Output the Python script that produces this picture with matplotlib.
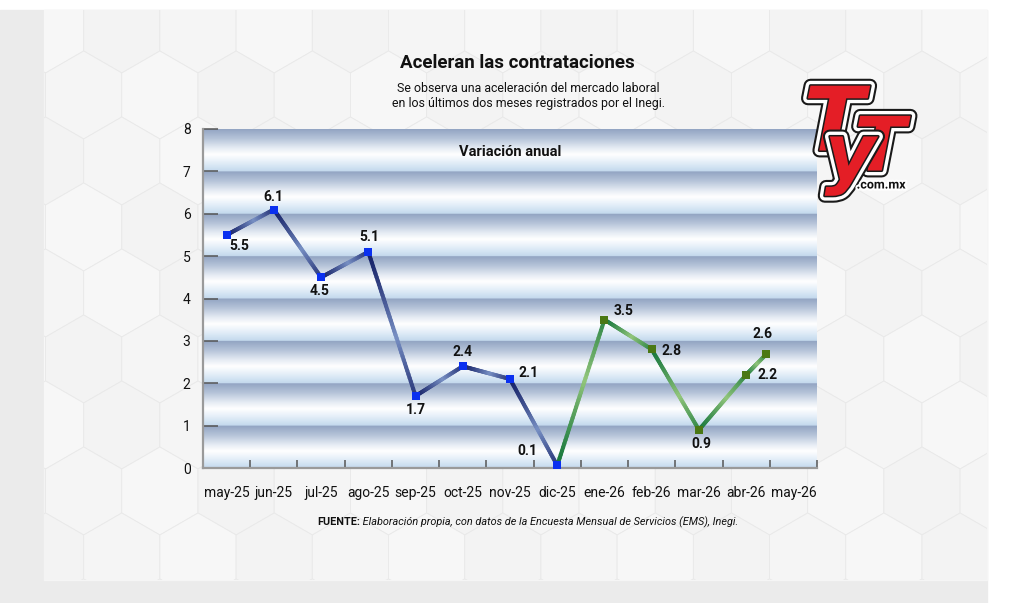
import numpy as np
import matplotlib
matplotlib.use('Agg')
import matplotlib.pyplot as plt
from matplotlib.collections import LineCollection
from matplotlib.colors import LinearSegmentedColormap, to_rgb
from matplotlib.patches import Rectangle, RegularPolygon
import matplotlib.patheffects as pe

# ---------------- data ----------------
months = ['may-25', 'jun-25', 'jul-25', 'ago-25', 'sep-25', 'oct-25', 'nov-25',
          'dic-25', 'ene-26', 'feb-26', 'mar-26', 'abr-26', 'may-26']
point_x = [0, 1, 2, 3, 4, 5, 6, 7, 8, 9, 10, 11, 11.42]
values = [5.5, 6.1, 4.5, 5.1, 1.7, 2.4, 2.1, 0.06, 3.5, 2.8, 0.9, 2.2, 2.68]
value_labels = ['5.5', '6.1', '4.5', '5.1', '1.7', '2.4', '2.1', '0.1',
                '3.5', '2.8', '0.9', '2.2', '2.6']
y_ticks = [0, 1, 2, 3, 4, 5, 6, 7, 8]
n_blue = 8  # first stretch (blue) through dic-25

title = 'Aceleran las contrataciones'
subtitle = ('Se observa una aceleración del mercado laboral\n'
            'en los últimos dos meses registrados por el Inegi.')
inner_title = 'Variación anual'
source_bold = 'FUENTE:'
source_text = ('Elaboración propia, con datos de la Encuesta Mensual de '
               'Servicios (EMS), Inegi.')

# label offsets in pixels (dx right, dy down)
label_off = [(13, 11), (0, -13), (-2, 14), (1, -15), (0, 14), (0, -14), (19, -6),
             (-30, -14), (19, -9), (20, 2), (2, 14), (21, 0), (-3, -20)]

FONT = ['Roboto', 'DejaVu Sans']
plt.rcParams['font.family'] = FONT

W, H = 1024, 603
fig = plt.figure(figsize=(W / 100, H / 100), dpi=100)
fig.patch.set_facecolor('white')

# ---------------- background ----------------
bg = fig.add_axes([0, 0, 1, 1], zorder=0)
bg.set_xlim(0, W)
bg.set_ylim(H, 0)
bg.axis('off')
bg.add_patch(Rectangle((0, 10), 987, 593, color='#ebebeb', zorder=0))
panel = Rectangle((44, 10), 943, 570, color='#f5f5f5', zorder=1)
bg.add_patch(panel)
R = 44
wstep = np.sqrt(3) * R
shades = ['#f5f5f5', '#f3f3f3', '#f7f7f7']
for r in range(-1, 10):
    for c in range(-1, 15):
        cx = 198 - 3 * wstep + c * wstep + (r % 2) * wstep / 2
        cy = 95 - 66 + r * 66
        hx = RegularPolygon((cx, cy), numVertices=6, radius=R, orientation=0,
                            facecolor=shades[(r + 2 * c) % 3], edgecolor='#e9e9e9',
                            lw=0.6, zorder=2)
        bg.add_patch(hx)
        hx.set_clip_path(panel)

# ---------------- main axes ----------------
ax = fig.add_axes([203 / W, (H - 468) / H, 614 / W, 339 / H], zorder=2)
ax.set_xlim(-0.5, 12.5)
ax.set_ylim(0, 8)

stripe_cmap = LinearSegmentedColormap.from_list('stripe', [
    (0.0, '#93a5c3'), (0.22, '#b6c4d9'), (0.45, '#e6ecf4'), (0.6, '#ffffff'),
    (0.75, '#eaf2fa'), (0.9, '#d3e4f3'), (1.0, '#c4d9ed')])
nrow = 60
band = np.linspace(0, 1, nrow)
img = np.tile(band, len(y_ticks) - 1).reshape(-1, 1)
ax.imshow(img, cmap=stripe_cmap, extent=[-0.5, 12.5, 0, 8], aspect='auto',
          origin='upper', interpolation='bilinear', zorder=0)


def grad_line(x0, y0, x1, y1, dark, light, n=40):
    t = np.linspace(0, 1, n + 1)
    xs = x0 + (x1 - x0) * t
    ys = y0 + (y1 - y0) * t
    segs = [[(xs[i], ys[i]), (xs[i + 1], ys[i + 1])] for i in range(n)]
    tm = (t[:-1] + t[1:]) / 2
    f = np.clip(1 - np.abs(tm - 0.6) / 0.6, 0, 1) ** 1.3
    d = np.array(to_rgb(dark))
    l = np.array(to_rgb(light))
    cols = d[None, :] + (l - d)[None, :] * f[:, None]
    lc = LineCollection(segs, colors=cols, linewidths=2.9, capstyle='round', zorder=3)
    ax.add_collection(lc)


for i in range(len(values) - 1):
    if i < n_blue - 1:
        dark, light = '#141f66', '#7890c4'
    else:
        dark, light = '#16773c', '#93c67c'
    grad_line(point_x[i], values[i], point_x[i + 1], values[i + 1], dark, light)

ax.plot(point_x[:n_blue], values[:n_blue], 's', color='#0a30f0', ms=6, zorder=5,
        markeredgewidth=0)
ax.plot(point_x[n_blue:], values[n_blue:], 's', color='#4a7814', ms=6, zorder=5,
        markeredgewidth=0)

for x, y, lbl, (dx, dy) in zip(point_x, values, value_labels, label_off):
    ax.annotate(lbl, (x, y), xytext=(dx * 0.72, -dy * 0.72), textcoords='offset points',
                ha='center', va='center', fontsize=10, fontweight='bold',
                color='#111111', zorder=6)

ax.text(0.5, 0.933, inner_title, transform=ax.transAxes, ha='center', va='center',
        fontsize=10.5, fontweight='bold', color='#111111')

for s in ['top', 'right']:
    ax.spines[s].set_visible(False)
for s in ['left', 'bottom']:
    ax.spines[s].set_color('#9a9a9a')
    ax.spines[s].set_linewidth(1.6)

ax.set_yticks(y_ticks)
ax.set_yticklabels([str(v) for v in y_ticks])
ax.tick_params(axis='y', direction='in', length=11, width=1.1, color='#555555',
               pad=9, labelsize=10, labelcolor='#111111')
ax.set_xticks(range(len(months)))
ax.set_xticklabels(months)
ax.set_xticks(np.arange(-0.5, 12.6, 1), minor=True)
ax.tick_params(axis='x', which='major', length=0, pad=13, labelsize=10,
               labelcolor='#111111')
ax.tick_params(axis='x', which='minor', direction='in', length=6, width=1.1,
               color='#555555')

# ---------------- texts ----------------
fig.text(517 / W, 1 - 63 / H, title, ha='center', va='center', fontsize=13.5,
         fontweight='bold', color='#111111')
fig.text(528 / W, 1 - 96.5 / H, subtitle, ha='center', va='center', fontsize=8.9,
         color='#111111', linespacing=1.2)
t1 = fig.text(317 / W, 1 - 522 / H, source_bold, ha='left', va='center', fontsize=7.8,
              fontweight='bold', color='#111111')
ax.annotate(' ' + source_text, xy=(1, 0.5), xycoords=t1, ha='left', va='center',
            fontsize=7.8, style='italic', color='#111111', annotation_clip=False)

# ---------------- logo ----------------
lg = fig.add_axes([0, 0, 1, 1], zorder=10)
lg.set_xlim(0, W)
lg.set_ylim(H, 0)
lg.axis('off')
lg.patch.set_alpha(0)
effects = [pe.Stroke(linewidth=10, foreground='#1a1a1a'),
           pe.Stroke(linewidth=7, foreground='white'),
           pe.Stroke(linewidth=2.2, foreground='#1a1a1a'), pe.Normal()]
lg.text(834, 126, 'T', fontsize=64, fontweight='heavy', style='italic',
        family='DejaVu Sans', color='#e41e26', ha='center', va='center',
        path_effects=effects)
lg.text(880, 150, 'T', fontsize=54, fontweight='heavy', style='italic',
        family='DejaVu Sans', color='#e41e26', ha='center', va='center',
        path_effects=effects)
lg.text(850, 158, 'y', fontsize=56, fontweight='heavy', style='italic',
        family='DejaVu Sans', color='#e41e26', ha='center', va='center',
        path_effects=effects)
lg.text(881, 185, '.com.mx', fontsize=9, fontweight='bold', color='#111111',
        ha='center', va='center',
        path_effects=[pe.Stroke(linewidth=3, foreground='white'), pe.Normal()])

fig.savefig('out.png', dpi=100, facecolor='white')
